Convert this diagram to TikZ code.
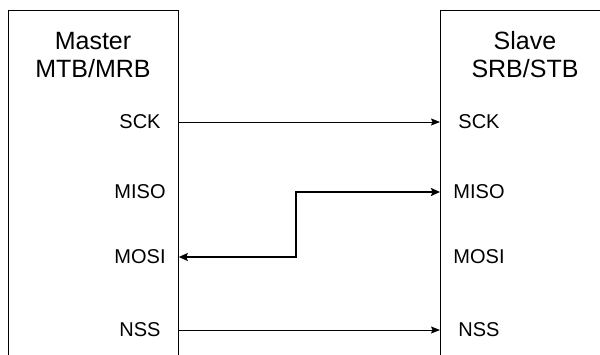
\documentclass[tikz,border=0pt]{standalone}
\usepackage{fontspec}
\setmainfont{Liberation Sans}
\usetikzlibrary{arrows.meta,positioning}

\begin{document}
\begin{tikzpicture}[
        x=1pt, y=-1pt,
        device/.style={rectangle, draw, line width=0.8pt, minimum width=170pt, minimum height=360pt, anchor=north west, inner sep=0pt},
        title/.style={align=center, font=\fontsize{25}{28}\selectfont},
        pin/.style={font=\fontsize{20}{24}\selectfont, inner sep=0pt},
        wire/.style={-{Stealth[length=9pt,width=7pt,inset=1.5pt]}, line width=0.9pt},
        bus/.style={{Stealth[length=9pt,width=8pt,inset=1.5pt]}-{Stealth[length=9pt,width=8pt,inset=1.5pt]}, line width=1.6pt},
    ]
        \useasboundingbox (0,0) rectangle (600,354);
        \clip (0,0) rectangle (600,354);

        % Devices
        \node[device] (master) at (8,10) {};
        \node[device] (slave) at (440,10) {};
        \node[title] (mtitle) at (93,55) {Master\\MTB/MRB};
        \node[title] (stitle) at (525,55) {Slave\\SRB/STB};

        % Master pins
        \node[pin] (msck) at (140,122) {SCK};
        \node[pin] (mmiso) at (140,192) {MISO};
        \node[pin] (mmosi) at (140,257) {MOSI};
        \node[pin] (mnss) at (140,330) {NSS};

        % Slave pins
        \node[pin] (ssck) at (479,122) {SCK};
        \node[pin] (smiso) at (479,192) {MISO};
        \node[pin] (smosi) at (479,257) {MOSI};
        \node[pin] (snss) at (479,330) {NSS};

        % Wires
        \coordinate (split) at (296,192);
        \draw[wire] (msck -| master.east) -- (ssck -| slave.west);
        \draw[bus] (mmosi -| master.east) -| (split) -- (smiso -| slave.west);
        \draw[wire] (mnss -| master.east) -- (snss -| slave.west);

    \end{tikzpicture}
\end{document}
